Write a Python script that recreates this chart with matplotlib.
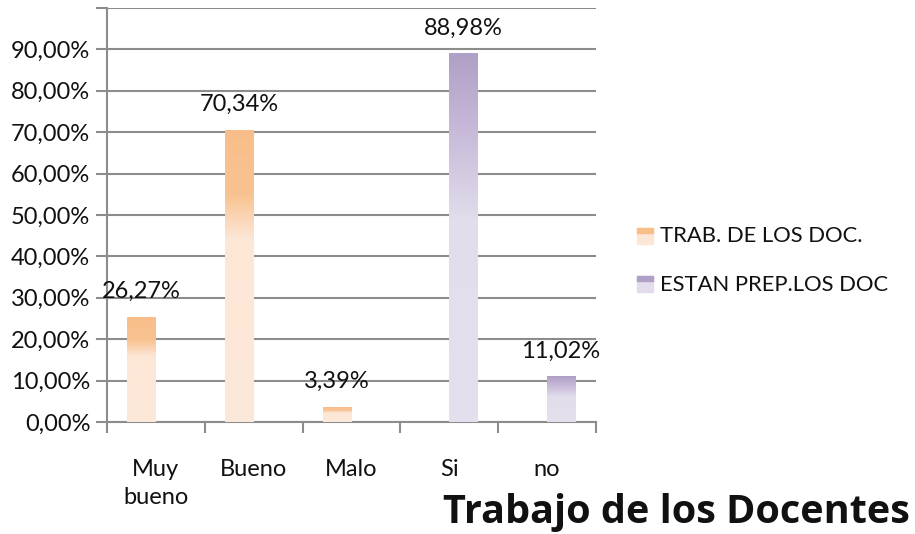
import numpy as np
import matplotlib
matplotlib.use('Agg')
import matplotlib.pyplot as plt
from matplotlib.colors import LinearSegmentedColormap
from matplotlib.ticker import FuncFormatter, MultipleLocator

# categorias del eje x
categorias = ['Muy\nbueno', 'Bueno', 'Malo', 'Si', 'no']
# serie 1: trabajo de los docentes (alturas)
trab_valores = [0.2520, 0.7034, 0.0339, 0.0, 0.0]
trab_etiquetas = ['26,27%', '70,34%', '3,39%', '', '']
# serie 2: estan preparados los docentes
prep_valores = [0.0, 0.0, 0.0, 0.8898, 0.1102]
prep_etiquetas = ['', '', '', '88,98%', '11,02%']

series_nombres = ['TRAB. DE LOS DOC.', 'ESTAN PREP.LOS DOC']

plt.rcParams['font.family'] = ['Lato', 'DejaVu Sans']
color_texto = '#111111'

# degradados (arriba -> abajo)
cmap_naranja = LinearSegmentedColormap.from_list(
    'nar', [(0.0, '#F8BE8A'), (0.22, '#F9C391'), (0.37, '#FCE6D6'), (1.0, '#FDE9DA')])
cmap_morado = LinearSegmentedColormap.from_list(
    'mor', [(0.0, '#B09FC6'), (0.2, '#C6B9D8'), (0.45, '#E2DCEB'), (1.0, '#E5DFEE')])

fig = plt.figure(figsize=(9.15, 5.34), dpi=100)
ax = fig.add_axes([107 / 915, 112 / 534, 489 / 915, 414 / 534])

x = np.arange(len(categorias))
ancho = 0.296
grad = np.linspace(0, 1, 256).reshape(-1, 1)


def barra_degradada(xc, h, cmap):
    if h <= 0:
        return
    ax.imshow(grad, cmap=cmap, aspect='auto', origin='upper',
              extent=[xc - ancho / 2, xc + ancho / 2, 0, h], zorder=3,
              interpolation='bilinear')


for i in range(len(categorias)):
    barra_degradada(x[i] - 0.148, trab_valores[i], cmap_naranja)
    barra_degradada(x[i] + 0.142, prep_valores[i], cmap_morado)
    if trab_etiquetas[i]:
        ax.annotate(trab_etiquetas[i], (x[i] - 0.148, trab_valores[i]),
                    xytext=(0, 19), textcoords='offset points', ha='center',
                    va='center', fontsize=17, color=color_texto)
    if prep_etiquetas[i]:
        ax.annotate(prep_etiquetas[i], (x[i] + 0.142, prep_valores[i]),
                    xytext=(0, 18), textcoords='offset points', ha='center',
                    va='center', fontsize=17, color=color_texto)

ax.set_xlim(-0.5, len(categorias) - 0.5)
ax.set_ylim(0, 1.0)

ax.yaxis.set_major_locator(MultipleLocator(0.1))
ax.yaxis.set_major_formatter(FuncFormatter(
    lambda v, p: '' if v > 0.95 else ('%.2f%%' % (v * 100)).replace('.', ',')))
ax.grid(axis='y', color='#8C8C8C', linewidth=1.5, zorder=1)
ax.set_axisbelow(True)

# ticks del eje x entre categorias
ax.set_xticks(np.arange(-0.5, len(categorias), 1.0))
ax.set_xticklabels([])
ax.tick_params(axis='x', length=8, width=1.5, color='#8C8C8C', direction='out')
ax.tick_params(axis='y', length=8, width=1.5, color='#8C8C8C', direction='out',
               labelsize=17, pad=4, labelcolor=color_texto)
for i, c in enumerate(categorias):
    ax.text(x[i], -0.09, c, ha='center', va='top', fontsize=17,
            color=color_texto, linespacing=1.4, transform=ax.transData)

for s in ['top', 'right']:
    ax.spines[s].set_visible(False)
for s in ['left', 'bottom']:
    ax.spines[s].set_color('#8C8C8C')
    ax.spines[s].set_linewidth(1.5)

# leyenda
fig.patches.append(plt.Rectangle((637 / 915, 1 - 244 / 534), 16 / 915, 16 / 534,
                                 transform=fig.transFigure, color='#FCE6D6'))
fig.patches.append(plt.Rectangle((637 / 915, 1 - 233 / 534), 16 / 915, 5 / 534,
                                 transform=fig.transFigure, color='#F8BE8A'))
fig.patches.append(plt.Rectangle((637 / 915, 1 - 292 / 534), 16 / 915, 16 / 534,
                                 transform=fig.transFigure, color='#E2DCEB'))
fig.patches.append(plt.Rectangle((637 / 915, 1 - 281 / 534), 16 / 915, 5 / 534,
                                 transform=fig.transFigure, color='#B09FC6'))
fig.text(660 / 915, 1 - 236 / 534, series_nombres[0], ha='left', va='center',
         fontsize=15.8, color=color_texto)
fig.text(660 / 915, 1 - 285 / 534, series_nombres[1], ha='left', va='center',
         fontsize=15.8, color=color_texto)

fig.text(910 / 915, 1 - 512 / 534, 'Trabajo de los Docentes', ha='right',
         va='center', fontsize=28.5, fontweight='bold', color=color_texto,
         family=['Open Sans', 'DejaVu Sans'])

fig.savefig('out.png', dpi=100)
